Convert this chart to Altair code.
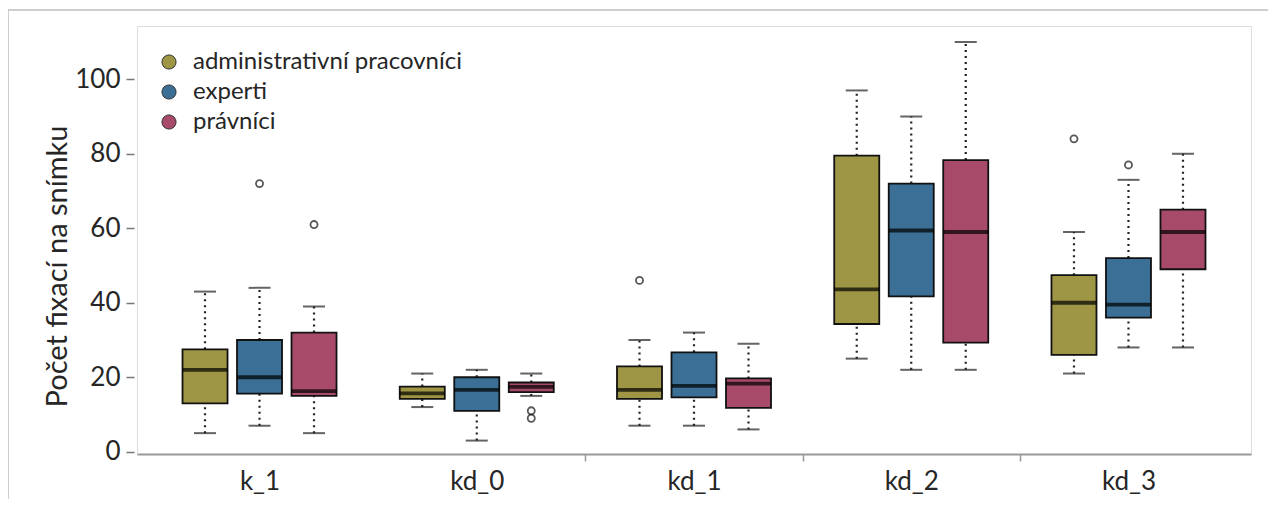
import altair as alt
import pandas as pd

categories = ["k_1", "kd_0", "kd_1", "kd_2", "kd_3"]
groups = ["administrativní pracovníci", "experti", "právníci"]
colors = ["#9f9645", "#3b6f95", "#a84a6a"]

admin_low = [5, 12, 7, 25, 21]
admin_q1 = [13, 14.2, 14.2, 34.3, 26]
admin_med = [22, 15.7, 16.6, 43.6, 40]
admin_q3 = [27.5, 17.5, 22.9, 79.5, 47.4]
admin_high = [43, 21, 30, 97, 59]

experti_low = [7, 3, 7, 22, 28]
experti_q1 = [15.6, 11, 14.6, 41.7, 36]
experti_med = [20, 16.6, 17.7, 59.4, 39.5]
experti_q3 = [30, 20, 26.7, 72, 52]
experti_high = [44, 22, 32, 90, 73]

pravnici_low = [5, 15, 6, 22, 28]
pravnici_q1 = [15, 16, 11.8, 29.3, 49]
pravnici_med = [16.3, 17.4, 18.3, 59, 59]
pravnici_q3 = [32, 18.6, 19.7, 78.3, 65]
pravnici_high = [39, 21, 29, 110, 80]

outlier_category = ["k_1", "k_1", "kd_0", "kd_0", "kd_1", "kd_3", "kd_3"]
outlier_group = ["experti", "právníci", "právníci", "právníci",
                 "administrativní pracovníci", "administrativní pracovníci", "experti"]
outlier_value = [72, 61, 11, 9, 46, 84, 77]

y_ticks = [0, 20, 40, 60, 80, 100]
y_title = "Počet fixací na snímku"

stats = {
    groups[0]: (admin_low, admin_q1, admin_med, admin_q3, admin_high),
    groups[1]: (experti_low, experti_q1, experti_med, experti_q3, experti_high),
    groups[2]: (pravnici_low, pravnici_q1, pravnici_med, pravnici_q3, pravnici_high),
}
rows = []
for g in groups:
    lo, q1, md, q3, hi = stats[g]
    for i, c in enumerate(categories):
        rows.append({"category": c, "group": g, "low": lo[i], "q1": q1[i],
                     "med": md[i], "q3": q3[i], "high": hi[i]})
df = pd.DataFrame(rows)
out_df = pd.DataFrame({"category": outlier_category, "group": outlier_group,
                       "value": outlier_value})

FONT = "Lato"
TXT = "#262626"

x_enc = alt.X(
    "category:N", sort=categories, title=None,
    scale=alt.Scale(paddingInner=0, paddingOuter=0.064),
    axis=alt.Axis(
        labelFont=FONT, labelFontSize=26, labelColor=TXT, labelAngle=0,
        labelPadding=7, tickBand="extent", tickSize=7, tickColor="#999999",
        tickWidth=1.5,
        tickOpacity={"condition": {"test": "datum.index > 0 && datum.index < 1", "value": 1}, "value": 0},
        domainColor="#999999", domainWidth=2,
    ),
)
xo_enc = alt.XOffset("group:N", sort=groups,
                     scale=alt.Scale(paddingInner=0.174, paddingOuter=0.58))
yscale = alt.Scale(domain=[-0.6, 114.3], nice=False, zero=False)
y_axis = alt.Axis(
    values=y_ticks, grid=False, domain=False, offset=3, tickSize=8,
    tickColor="#777777", tickWidth=1.5, labelFont=FONT, labelFontSize=26,
    labelColor=TXT, labelPadding=6, titleFont=FONT, titleFontSize=29,
    titleFontWeight="normal", titleColor=TXT, titleAngle=270,
    titleAlign="center", titleBaseline="middle", titleX=-77, titleY=240,
)

base = alt.Chart(df)

whisk_lo = base.mark_rule(color="#222222", strokeWidth=2.2, strokeDash=[2, 4]).encode(
    x=x_enc, xOffset=xo_enc,
    y=alt.Y("low:Q", scale=yscale, axis=y_axis, title=y_title), y2="q1:Q")
whisk_hi = base.mark_rule(color="#222222", strokeWidth=2.2, strokeDash=[2, 4]).encode(
    x=x_enc, xOffset=xo_enc,
    y=alt.Y("q3:Q", scale=yscale, title=y_title), y2="high:Q")
cap_lo = base.mark_tick(color="#222222", thickness=2, size=22).encode(
    x=x_enc, xOffset=xo_enc, y=alt.Y("low:Q", scale=yscale, title=y_title))
cap_hi = base.mark_tick(color="#222222", thickness=2, size=22).encode(
    x=x_enc, xOffset=xo_enc, y=alt.Y("high:Q", scale=yscale, title=y_title))
boxes = base.mark_bar(stroke="#111111", strokeWidth=1.8).encode(
    x=x_enc, xOffset=xo_enc,
    y=alt.Y("q1:Q", scale=yscale, title=y_title), y2="q3:Q",
    color=alt.Color(
        "group:N", sort=groups,
        scale=alt.Scale(domain=groups, range=colors),
        legend=alt.Legend(
            title=None, orient="none", legendX=20, legendY=24,
            symbolType="circle", symbolSize=200, symbolStrokeColor="#333333",
            symbolStrokeWidth=1, symbolOpacity=1, labelFont=FONT,
            labelFontSize=24, labelColor=TXT, labelOffset=12, rowPadding=6,
            padding=0, labelLimit=0,
        ),
    ),
)
medians = base.mark_tick(color="#000000", thickness=3.8, size=45).encode(
    x=x_enc, xOffset=xo_enc, y=alt.Y("med:Q", scale=yscale, title=y_title))
outliers = alt.Chart(out_df).mark_point(
    shape="circle", filled=False, color="#111111", strokeWidth=1.8, size=50
).encode(x=x_enc, xOffset=xo_enc, y=alt.Y("value:Q", scale=yscale, title=y_title))

frame_left = alt.Chart(df).mark_rule(color="#cccccc", strokeWidth=1.5).encode(
    x=alt.value(-129), y=alt.value(-16), y2=alt.value(480))
frame_top = alt.Chart(df).mark_rule(color="#cccccc", strokeWidth=1.5).encode(
    x=alt.value(-129), x2=alt.value(1131), y=alt.value(-16))

chart = alt.layer(
    whisk_lo, whisk_hi, cap_lo, cap_hi, boxes, medians, outliers, frame_left, frame_top
).properties(
    width=1114, height=428,
    padding={"left": 129, "top": 18, "right": 17, "bottom": 45},
    autosize=alt.AutoSizeParams(type="none"),
).configure_view(
    stroke="#aaaaaa", strokeWidth=1.5
).configure(background="white")

chart.save("out.html", embed_options={"renderer": "svg", "actions": False})
